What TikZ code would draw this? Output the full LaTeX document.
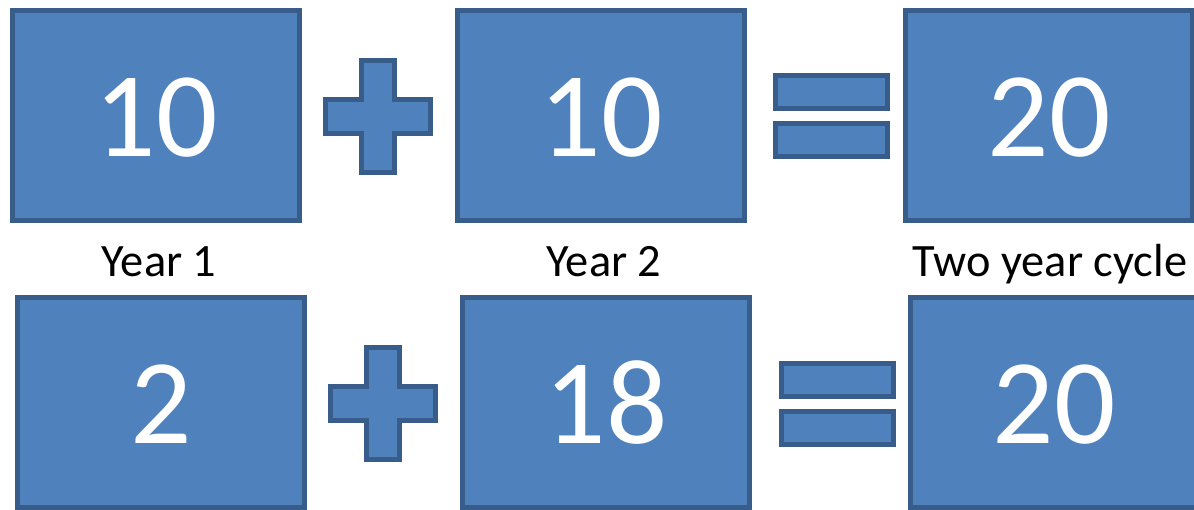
\documentclass[tikz,border=0pt]{standalone}
\usepackage{fontspec}
\setmainfont{Carlito}
\usepackage{tikz}
\usetikzlibrary{positioning}
\definecolor{boxfill}{HTML}{4F81BD}
\definecolor{boxline}{HTML}{385D8A}
\tikzset{numbox/.style={draw=boxline, fill=boxfill, line width=2.8pt,
  minimum width=5.74cm, minimum height=4.2cm, inner sep=0pt,
  text height=47pt, text depth=0pt,
  text=white, font=\fontsize{69}{69}\selectfont}}
\tikzset{signshape/.style={draw=boxline, fill=boxfill, line width=2.8pt}}
\tikzset{yearlabel/.style={anchor=base, inner sep=0pt, font=\fontsize{26.4}{26.4}\selectfont}}

\begin{document}
\begin{tikzpicture}[x=0.02cm, y=-0.02cm]
\useasboundingbox (0,0) rectangle (1194,510);

\node[numbox] (yearone) at (156, 115.5) {10};
\node[numbox] (yeartwo) at (601, 115.5) {10};
\node[numbox] (cycle) at (1049, 115.5) {20};
\node[yearlabel] (yearonelabel) at (159, 276) {Year 1};
\node[yearlabel] (yeartwolabel) at (604, 276) {Year 2};
\node[yearlabel] (cyclelabel) at (1050, 276) {Two year cycle};

\node[numbox] (lowone) at (161, 402.5) {2};
\node[numbox] (lowtwo) at (606, 402.5) {18};
\node[numbox] (lowcycle) at (1054, 402.5) {20};

\draw[signshape] (361.5, 60.5) -- (394.5, 60.5) -- (394.5, 99.5) -- (430.5, 99.5)
  -- (430.5, 133.5) -- (394.5, 133.5) -- (394.5, 172.5) -- (361.5, 172.5)
  -- (361.5, 133.5) -- (325.5, 133.5) -- (325.5, 99.5) -- (361.5, 99.5) -- cycle;
\draw[signshape] (775.5, 75.5) rectangle (887.5, 108.5);
\draw[signshape] (775.5, 123.5) rectangle (887.5, 156.5);

\begin{scope}[shift={(5, 287)}]
\draw[signshape] (361.5, 60.5) -- (394.5, 60.5) -- (394.5, 99.5) -- (430.5, 99.5)
  -- (430.5, 133.5) -- (394.5, 133.5) -- (394.5, 172.5) -- (361.5, 172.5)
  -- (361.5, 133.5) -- (325.5, 133.5) -- (325.5, 99.5) -- (361.5, 99.5) -- cycle;
\end{scope}
\begin{scope}[shift={(6, 288)}]
\draw[signshape] (775.5, 75.5) rectangle (887.5, 108.5);
\draw[signshape] (775.5, 123.5) rectangle (887.5, 156.5);
\end{scope}

\end{tikzpicture}
\end{document}
